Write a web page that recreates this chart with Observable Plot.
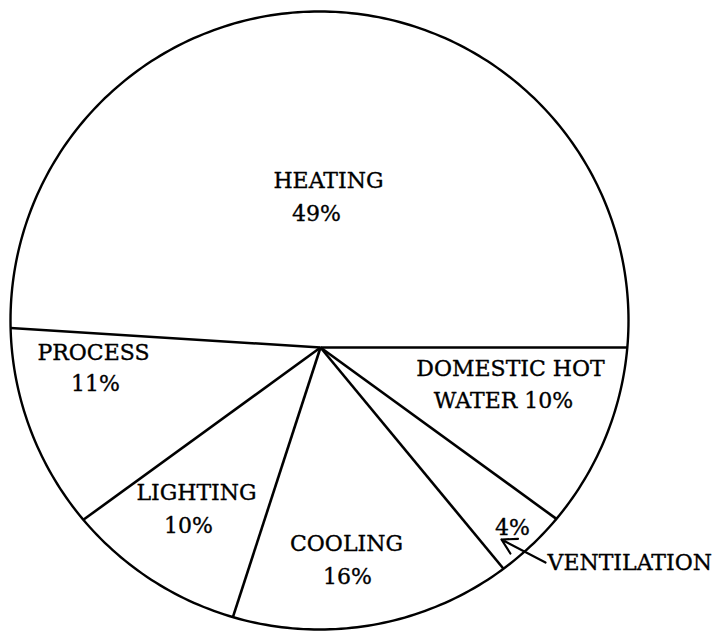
<!DOCTYPE html>
<html><head><meta charset="utf-8">
<script src="https://cdn.jsdelivr.net/npm/d3@7"></script>
<script src="https://cdn.jsdelivr.net/npm/@observablehq/plot@0.6"></script>
<style>
html,body{margin:0;padding:0;background:#fff}
</style>
</head><body><div id="chart"></div>
<script>
// ---- data ----
const categories = ["HEATING", "PROCESS", "LIGHTING", "COOLING", "VENTILATION", "DOMESTIC HOT WATER"];
const shares = [49, 11, 10, 16, 4, 10];
const labelLines = [
  ["HEATING", "49%"],
  ["PROCESS", "11%"],
  ["LIGHTING", "10%"],
  ["COOLING", "16%"],
  ["4%"],
  ["DOMESTIC HOT", "WATER 10%"]
];

// ---- layout (frame units = pixels of the 720x632 picture) ----
const W = 720, H = 632;
const circleCenter = [319, 320], radius = 309;
const vertex = [320, 347];               // hand-drawn pie: wedges meet below the circle centre
const labelAnchors = [                    // one [x, y] per label line
  [[328, 180], [316, 213]],
  [[93, 352], [95, 383]],
  [[196, 492], [188, 525]],
  [[346, 543], [347, 576]],
  [[512, 527]],
  [[510, 368], [503, 400]]
];
const calloutText = {text: "VENTILATION", x: 547, y: 562};
const calloutArrow = {x1: 545, y1: 562, x2: 501, y2: 539};

// ---- geometry derived from the data ----
const total = d3.sum(shares);
const cum = d3.cumsum(shares);
function rayToCircle(theta) {
  const dx = Math.cos(theta), dy = -Math.sin(theta);
  const wx = vertex[0] - circleCenter[0], wy = vertex[1] - circleCenter[1];
  const b = wx * dx + wy * dy;
  const c = wx * wx + wy * wy - radius * radius;
  const t = -b + Math.sqrt(b * b - c);
  return [vertex[0] + t * dx, vertex[1] + t * dy];
}
const boundaries = [0, ...cum.slice(0, -1)].map((v, i) => {
  const [x2, y2] = rayToCircle(v / total * 2 * Math.PI);
  return {x1: vertex[0], y1: vertex[1], x2, y2, key: i};
});
const circlePts = d3.range(0, 361).map(a => ({
  x: circleCenter[0] + radius * Math.cos(a * Math.PI / 180),
  y: circleCenter[1] + radius * Math.sin(a * Math.PI / 180)
}));
const texts = [];
categories.forEach((c, i) => {
  labelLines[i].forEach((t, j) => {
    texts.push({category: c, text: t, x: labelAnchors[i][j][0], y: labelAnchors[i][j][1]});
  });
});

const font = "'DejaVu Serif', 'Liberation Serif', serif";
const textStyle = {x: "x", y: "y", text: "text", fontFamily: font, fontSize: 22, fill: "black",
  stroke: "black", strokeWidth: 0.35, lineAnchor: "middle"};
const chart = Plot.plot({
  width: W, height: H, margin: 0,
  x: {domain: [0, W], axis: null},
  y: {domain: [0, H], range: [0, H], axis: null},
  style: {background: "#fff"},
  marks: [
    Plot.line(circlePts, {x: "x", y: "y", stroke: "black", strokeWidth: 2.4}),
    Plot.link(boundaries, {x1: "x1", y1: "y1", x2: "x2", y2: "y2", stroke: "black", strokeWidth: 2.6}),
    Plot.text(texts, {...textStyle, textAnchor: "middle"}),
    Plot.text([calloutText], {...textStyle, textAnchor: "start"}),
    Plot.arrow([calloutArrow], {x1: "x1", y1: "y1", x2: "x2", y2: "y2", stroke: "black",
      strokeWidth: 2.2, headLength: 13, headAngle: 60})
  ]
});
document.getElementById("chart").appendChild(chart);
</script>
</body></html>
